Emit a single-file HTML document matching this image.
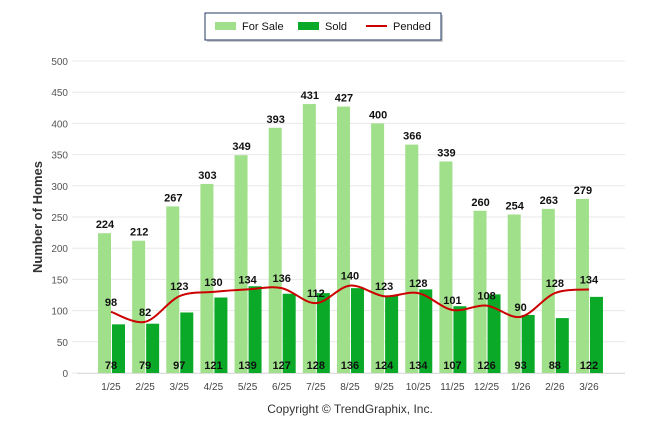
<!DOCTYPE html>
<html><head><meta charset="utf-8"><style>
body{margin:0;background:#fff;width:646px;height:434px;overflow:hidden;font-family:"Liberation Sans",Arial,sans-serif}
svg text{font-family:"Liberation Sans",Arial,sans-serif}
</style></head><body>
<svg id="chart" width="646" height="434" xmlns="http://www.w3.org/2000/svg">
<g>
<rect x="207" y="15" width="236" height="27" fill="#ccc"/>
<rect x="205" y="13" width="236" height="27" fill="#fff" stroke="#1f3864" stroke-width="1"/>
<rect x="215" y="22" width="21" height="8" fill="#a0e08a"/>
<text x="242" y="30" font-size="11" fill="#111">For Sale</text>
<rect x="298" y="22" width="21" height="8" fill="#0aaa28"/>
<text x="325" y="30" font-size="11" fill="#111">Sold</text>
<line x1="366" y1="26" x2="387" y2="26" stroke="#cc0000" stroke-width="2"/>
<text x="393" y="30" font-size="11" fill="#111">Pended</text>
</g>
<text transform="translate(42,217) rotate(-90)" text-anchor="middle" font-size="13" font-weight="bold" fill="#333">Number of Homes</text>
<text x="350" y="413" text-anchor="middle" font-size="12" fill="#333">Copyright © TrendGraphix, Inc.</text>
<g id="grid"></g><g id="bars"></g><g id="line"></g><g id="labels"></g>
</svg>
<script>
const categories=["1/25","2/25","3/25","4/25","5/25","6/25","7/25","8/25","9/25","10/25","11/25","12/25","1/26","2/26","3/26"];
const forSale=[224,212,267,303,349,393,431,427,400,366,339,260,254,263,279];
const sold=[78,79,97,121,139,127,128,136,124,134,107,126,93,88,122];
const pended=[98,82,123,130,134,136,112,140,123,128,101,108,90,128,134];
const yTicks=[0,50,100,150,200,250,300,350,400,450,500];
const NS="http://www.w3.org/2000/svg";
const y=v=>373-v*0.624;
const x=i=>111+i*34.14;
function mk(tag,attrs,parent,text){const e=document.createElementNS(NS,tag);for(const k in attrs)e.setAttribute(k,attrs[k]);if(text!==undefined)e.textContent=text;document.getElementById(parent).appendChild(e);return e;}
yTicks.forEach(t=>{
 const l=mk('line',{x1:72,x2:625,y1:y(t),y2:y(t),stroke:'#e8e8e8','stroke-width':1},'grid');
 
 
 const tx=mk('text',{x:68,y:y(t)+4,'text-anchor':'end','font-size':10,fill:'#555'},'grid',t);
 
 
});
const ax=mk('line',{x1:77,x2:625,y1:373.5,y2:373.5,stroke:'#ddd'},'grid');


categories.forEach((c,i)=>{
 const t=mk('text',{x:x(i),y:390,'text-anchor':'middle','font-size':10,fill:'#444'},'grid',c);
 
 
 const b1=mk('rect',{x:x(i)-13,y:y(forSale[i]),width:13,height:forSale[i]*0.624,fill:'#a0e08a'},'bars');
 
 
 const b2=mk('rect',{x:x(i)+1,y:y(sold[i]),width:13,height:sold[i]*0.624,fill:'#0aaa28'},'bars');
 
 
 const l1=mk('text',{x:x(i)-6,y:y(forSale[i])-5,'text-anchor':'middle','font-size':11,'font-weight':'bold',fill:'#111'},'labels',forSale[i]);
 
 
 const l2=mk('text',{x:x(i),y:369,'text-anchor':'middle','font-size':11,'font-weight':'bold',fill:'#111'},'labels',sold[i]);
 
 
 const l3=mk('text',{x:x(i),y:y(pended[i])-6,'text-anchor':'middle','font-size':11,'font-weight':'bold',fill:'#111'},'labels',pended[i]);
 
 
});
const pts=pended.map((v,i)=>[x(i),y(v)]);
let d=`M${pts[0][0]},${pts[0][1]}`;
for(let i=0;i<pts.length-1;i++){
 const p0=pts[Math.max(0,i-1)],p1=pts[i],p2=pts[i+1],p3=pts[Math.min(pts.length-1,i+2)];
 const c1=[p1[0]+(p2[0]-p0[0])/6,p1[1]+(p2[1]-p0[1])/6],c2=[p2[0]-(p3[0]-p1[0])/6,p2[1]-(p3[1]-p1[1])/6];
 d+=` C${c1[0]},${c1[1]} ${c2[0]},${c2[1]} ${p2[0]},${p2[1]}`;
}
const ln=mk('path',{d:d,fill:'none',stroke:'#cc0000','stroke-width':2},'line');


</script>
</body></html>
